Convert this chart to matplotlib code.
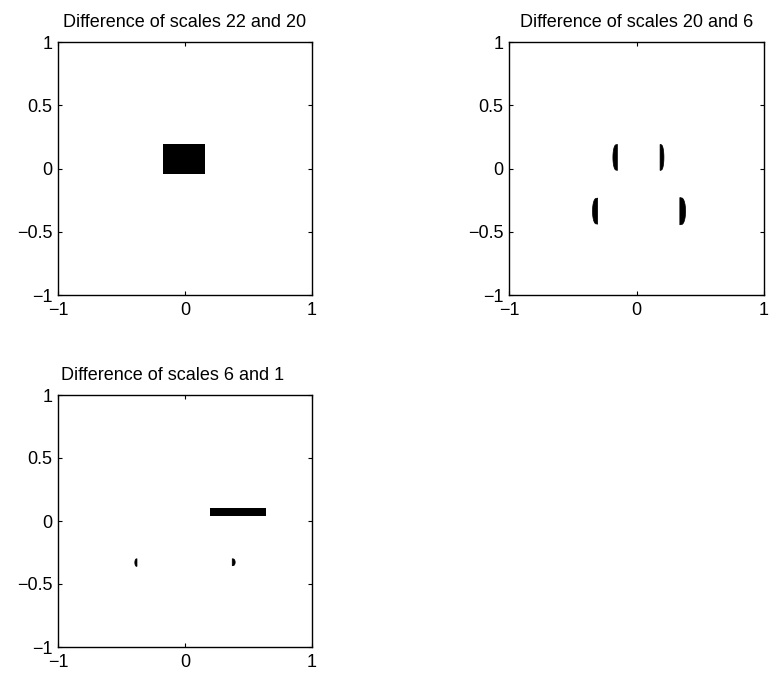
import numpy as np
import matplotlib
matplotlib.use("Agg")
import matplotlib.pyplot as plt

plt.rcParams['font.family'] = ['Liberation Sans', 'DejaVu Sans']

titles = ["Difference of scales 22 and 20",
          "Difference of scales 20 and 6",
          "Difference of scales 6 and 1"]
xticks = [-1, 0, 1]
yticks = [-1, -0.5, 0, 0.5, 1]
xticklabels = ["\u22121", "0", "1"]
yticklabels = ["\u22121", "\u22120.5", "0", "0.5", "1"]

# Panel 1: rectangle regions (x0, x1, y0, y1)
rect1_x0 = [-0.17]
rect1_x1 = [0.155]
rect1_y0 = [-0.04]
rect1_y1 = [0.19]

# Panel 2: crescent regions: flat edge x, bulge x, y range
cres2_flat = [-0.15, 0.185, -0.305, 0.34]
cres2_bulge = [-0.185, 0.215, -0.345, 0.385]
cres2_y0 = [-0.015, -0.015, -0.44, -0.445]
cres2_y1 = [0.19, 0.19, -0.234, -0.23]

# Panel 3: bar region and two tiny crescents
rect3_x0 = [0.20]
rect3_x1 = [0.64]
rect3_y0 = [0.038]
rect3_y1 = [0.105]
cres3_flat = [-0.378, 0.372]
cres3_bulge = [-0.395, 0.395]
cres3_y0 = [-0.36, -0.355]
cres3_y1 = [-0.30, -0.30]

fig = plt.figure(figsize=(7.84, 6.77), dpi=100)
W, H = 784, 677

def make_ax(left, right, top, bottom):
    return fig.add_axes([left / W, 1 - bottom / H, (right - left) / W, (bottom - top) / H])

axes = [make_ax(58, 312, 42, 295), make_ax(509, 764, 42, 295), make_ax(58, 312, 395, 647)]

def draw_crescent(ax, flat, bulge, y0, y1):
    t = np.linspace(0, 1, 60)
    y = y0 + (y1 - y0) * t
    prof = np.sin(np.pi * t) ** 0.3
    xb = flat + (bulge - flat) * prof
    xf = np.full_like(y, flat)
    ax.fill(np.concatenate([xf, xb[::-1]]), np.concatenate([y, y[::-1]]),
            color='black', lw=0.5)

for ax, title in zip(axes, titles):
    ax.set_xlim(-1, 1)
    ax.set_ylim(-1, 1)
    ax.set_xticks(xticks)
    ax.set_xticklabels(xticklabels)
    ax.set_yticks(yticks)
    ax.set_yticklabels(yticklabels)
    ax.tick_params(direction='in', length=3, width=0.8, top=True, right=True,
                   labelsize=13, pad=4, colors='black')
    ax.tick_params(axis='x', pad=5)
    for s in ax.spines.values():
        s.set_linewidth(1.0)
        s.set_color('black')
    ax.set_title(title, fontsize=13, pad=11)

axes[2].title.set_x(0.45)

for x0, x1, y0, y1 in zip(rect1_x0, rect1_x1, rect1_y0, rect1_y1):
    axes[0].fill([x0, x1, x1, x0], [y0, y0, y1, y1], color='black', lw=0)

for f, b, y0, y1 in zip(cres2_flat, cres2_bulge, cres2_y0, cres2_y1):
    draw_crescent(axes[1], f, b, y0, y1)

for x0, x1, y0, y1 in zip(rect3_x0, rect3_x1, rect3_y0, rect3_y1):
    axes[2].fill([x0, x1, x1, x0], [y0, y0, y1, y1], color='black', lw=0)

for f, b, y0, y1 in zip(cres3_flat, cres3_bulge, cres3_y0, cres3_y1):
    draw_crescent(axes[2], f, b, y0, y1)

fig.savefig("out.png", dpi=100)
